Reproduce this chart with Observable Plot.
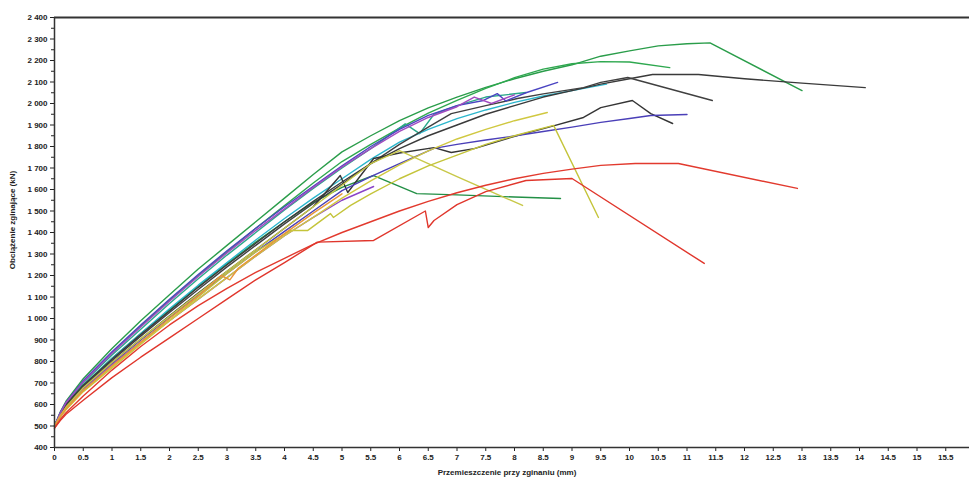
<!DOCTYPE html>
<html>
<head>
<meta charset="utf-8">
<script src="https://cdn.jsdelivr.net/npm/d3@7"></script>
<script src="https://cdn.jsdelivr.net/npm/@observablehq/plot@0.6"></script>
<style>
  html, body { margin: 0; padding: 0; background: #fff; }
  #chart { position: relative; width: 969px; height: 479px; }
  svg { font-family: "Liberation Sans", Arial, sans-serif; }
</style>
</head>
<body>
<div id="chart"></div>
<script>
// ---- Data (displacement mm, load kN) ----
const xTicks = d3.range(0, 15.51, 0.5);
const yTicks = d3.range(400, 2401, 100);
const yMinorTicks = d3.range(450, 2400, 100);

const greenA = [[0,500],[0.1,565],[0.2,615],[0.5,720],[1,860],[1.5,990],[2,1110],[2.5,1230],[3,1340],[3.5,1450],[4,1560],[4.5,1670],[5,1775],[5.5,1850],[6,1920],[6.5,1980],[7,2030],[7.5,2075],[8,2115],[8.5,2150],[9,2180],[9.5,2220],[10,2245],[10.5,2268],[11,2278],[11.4,2282],[13,2060]];
const greenB = [[0,500],[0.1,560],[0.2,605],[0.5,705],[1,840],[1.5,965],[2,1085],[2.5,1200],[3,1310],[3.5,1420],[4,1525],[4.5,1630],[5,1730],[5.5,1810],[6,1885],[6.5,1955],[7,2015],[7.5,2070],[8,2120],[8.5,2160],[9,2185],[9.5,2195],[10,2193],[10.7,2167]];
const greenC = [[0,500],[0.1,555],[0.2,595],[0.5,690],[1,815],[1.5,930],[2,1040],[2.5,1150],[3,1255],[3.5,1355],[4,1450],[4.5,1540],[5,1610],[5.55,1665],[6.3,1581],[7,1575],[8,1565],[8.8,1558]];
const tealA = [[0,500],[0.1,558],[0.2,600],[0.5,700],[1,830],[1.5,950],[2,1070],[2.5,1185],[3,1295],[3.5,1400],[4,1505],[4.5,1605],[5,1700],[5.5,1790],[6.1,1905],[6.35,1860],[6.6,1950],[7,1990],[7.5,2030],[8.2,2051]];
const cyanA = [[0,500],[0.1,550],[0.2,590],[0.5,690],[1,815],[1.5,930],[2,1045],[2.5,1155],[3,1260],[3.5,1365],[4,1465],[4.5,1560],[5,1650],[5.5,1740],[6,1820],[6.5,1880],[7,1930],[7.5,1970],[8,2005],[8.5,2035],[9,2060],[9.6,2090]];
const blackA = [[0,500],[0.1,555],[0.2,600],[0.5,690],[1,810],[1.5,925],[2,1035],[2.5,1145],[3,1250],[3.5,1350],[4,1450],[4.5,1545],[5,1635],[5.5,1720],[6,1790],[6.5,1850],[7,1900],[7.5,1950],[8,1990],[8.5,2030],[9,2060],[9.5,2090],[10,2115],[10.4,2135],[11.2,2135],[12,2115],[13,2095],[14.1,2074]];
const blackB = [[0,500],[0.1,552],[0.2,595],[0.5,685],[1,805],[1.5,918],[2,1028],[2.5,1135],[3,1240],[3.5,1340],[4,1440],[4.5,1535],[5,1625],[5.5,1720],[6,1810],[6.5,1890],[6.9,1953],[7.5,1990],[8.05,2023],[8.5,2045],[9.2,2074],[9.5,2098],[9.97,2121],[11.44,2014]];
const blackC = [[0,500],[0.1,548],[0.2,590],[0.5,680],[1,795],[1.5,905],[2,1012],[2.5,1118],[3,1220],[3.5,1320],[4,1420],[4.5,1520],[4.97,1665],[5.1,1586],[5.55,1744],[6,1770],[6.6,1795],[6.9,1772],[7.3,1790],[8.05,1851],[8.6,1890],[9.2,1935],[9.5,1981],[10.05,2014],[10.37,1953],[10.75,1907]];
const blueA = [[0,500],[0.1,545],[0.2,585],[0.5,675],[1,790],[1.5,900],[2,1005],[2.5,1108],[3,1210],[3.5,1310],[4,1405],[4.5,1500],[5,1595],[5.5,1660],[6,1720],[6.6,1791],[7,1810],[7.5,1830],[8.05,1851],[8.5,1870],[9,1890],[9.5,1912],[10,1930],[10.37,1944],[11,1949]];
const blueB = [[0,500],[0.1,562],[0.2,610],[0.5,710],[1,845],[1.5,970],[2,1090],[2.5,1205],[3,1315],[3.5,1420],[4,1520],[4.5,1615],[5,1710],[5.5,1800],[6,1880],[6.5,1945],[7,1990],[7.46,2014],[7.7,2046],[7.85,2012],[8.2,2050],[8.75,2098]];
const purpleA = [[0,500],[0.1,545],[0.2,582],[0.5,670],[1,785],[1.5,890],[2,990],[2.5,1090],[3,1190],[3.5,1290],[4,1385],[4.5,1470],[5,1550],[5.55,1614]];
const purpleB = [[0,500],[0.1,560],[0.2,608],[0.5,705],[1,838],[1.5,960],[2,1080],[2.5,1195],[3,1305],[3.5,1410],[4,1510],[4.5,1610],[5,1705],[5.5,1790],[6,1870],[6.5,1935],[7,1985],[7.3,2030],[7.6,2000],[8,2040]];
const yellowA = [[0,500],[0.1,540],[0.2,575],[0.5,660],[1,770],[1.5,880],[2,990],[2.5,1100],[3,1210],[3.5,1310],[4.1,1409],[4.4,1409],[4.8,1488],[4.85,1470],[5.15,1526],[5.5,1580],[6,1650],[6.5,1710],[7,1760],[7.5,1810],[8,1850],[8.68,1898],[9.46,1470]];
const yellowB = [[0,500],[0.1,548],[0.2,588],[0.5,678],[1,795],[1.5,905],[2,1010],[2.5,1115],[3,1220],[3.5,1320],[4,1420],[4.5,1520],[5,1620],[5.5,1720],[6.0,1781],[7,1660],[8.14,1526]];
const yellowC = [[0,500],[0.1,545],[0.2,580],[0.5,665],[1,775],[1.5,885],[2,990],[2.5,1090],[3,1190],[3.5,1290],[4,1385],[4.5,1470],[5,1560],[5.5,1640],[6,1715],[6.5,1780],[7,1835],[7.5,1880],[8,1920],[8.57,1958]];
const orangeA = [[0,500],[0.1,545],[0.2,580],[0.5,665],[1,780],[1.5,890],[2,1000],[2.5,1105],[2.9,1200],[3.05,1180],[3.2,1235],[3.5,1295],[4,1395],[4.5,1490],[5,1580]];
const redA = [[0,490],[0.1,530],[0.2,562],[0.5,640],[1,760],[1.5,870],[2,970],[2.5,1060],[3,1140],[3.5,1215],[4,1280],[4.5,1345],[5,1400],[5.5,1450],[6,1500],[6.5,1545],[7,1585],[7.5,1620],[8,1650],[8.5,1675],[9,1695],[9.5,1712],[10.1,1721],[10.85,1721],[12.92,1605]];
const redB = [[0,490],[0.1,525],[0.2,555],[0.5,620],[1,725],[1.5,820],[2,910],[2.5,1000],[3,1090],[3.5,1180],[4,1260],[4.57,1355],[5.55,1363],[6.45,1500],[6.5,1423],[6.6,1456],[7,1530],[7.5,1590],[8.2,1642],[9.0,1651],[11.3,1256]];

const seriesList = {
  "Zielona A": greenA, "Zielona B": greenB, "Zielona C": greenC, "Turkusowa": tealA, "Błękitna": cyanA,
  "Czarna A": blackA, "Czarna B": blackB, "Czarna C": blackC,
  "Niebieska A": blueA, "Niebieska B": blueB, "Fioletowa A": purpleA, "Fioletowa B": purpleB,
  "Żółta A": yellowA, "Żółta B": yellowB, "Żółta C": yellowC, "Pomarańczowa": orangeA,
  "Czerwona A": redA, "Czerwona B": redB
};
const seriesColors = {
  "Zielona A": "#2a9d4a", "Zielona B": "#2ea84f", "Zielona C": "#239046", "Turkusowa": "#2aa88a", "Błękitna": "#2bb6cc",
  "Czarna A": "#3a3a3a", "Czarna B": "#404040", "Czarna C": "#353535",
  "Niebieska A": "#4a3fb8", "Niebieska B": "#4b45c2", "Fioletowa A": "#8a44c8", "Fioletowa B": "#a24ac0",
  "Żółta A": "#c4c43a", "Żółta B": "#c8c848", "Żółta C": "#d0c840", "Pomarańczowa": "#e8963a",
  "Czerwona A": "#e23a2e", "Czerwona B": "#e0362c"
};

const rows = [];
for (const [name, pts] of Object.entries(seriesList)) {
  for (const [x, y] of pts) rows.push({series: name, x, y});
}

const fmtY = d => d >= 1000 ? Math.floor(d / 1000) + " " + String(d % 1000).padStart(3, "0") : String(d);
const fmtX = d => String(d);

const chart = Plot.plot({
  width: 969,
  height: 479,
  marginLeft: 54,
  marginRight: 0,
  marginTop: 17,
  marginBottom: 32,
  style: {fontSize: "8px", fontWeight: "bold", color: "#222", background: "#fff"},
  x: {domain: [0, 15.913], label: null},
  y: {domain: [400, 2400], label: null},
  color: {domain: Object.keys(seriesColors), range: Object.values(seriesColors)},
  marks: [
    Plot.axisX({ticks: xTicks, tickFormat: fmtX, tickSize: 4, tickPadding: 3, label: null}),
    Plot.axisY({ticks: yTicks, tickFormat: fmtY, tickSize: 4, tickPadding: 3, label: null}),
    Plot.axisY({ticks: yMinorTicks, tickFormat: () => "", tickSize: 3, label: null}),
    Plot.lineY(rows, {x: "x", y: "y", z: "series", stroke: "series", strokeWidth: 1.4, curve: "linear"}),
    Plot.ruleY([2400], {stroke: "#333", strokeWidth: 2}),
    Plot.ruleY([400], {stroke: "#333", strokeWidth: 1.5}),
    Plot.ruleX([0], {stroke: "#333", strokeWidth: 1.5})
  ]
});

const wrap = document.getElementById("chart");
wrap.appendChild(chart);

// axis titles
const svg = d3.select(chart);
svg.append("text")
  .attr("x", 507).attr("y", 475)
  .attr("text-anchor", "middle")
  .attr("font-size", 8).attr("font-weight", "bold").attr("fill", "#222")
  .text("Przemieszczenie przy zginaniu (mm)");
svg.append("text")
  .attr("transform", "translate(15,220) rotate(-90)")
  .attr("text-anchor", "middle")
  .attr("font-size", 8).attr("font-weight", "bold").attr("fill", "#222")
  .text("Obciążenie zginające (kN)");
</script>
</body>
</html>
